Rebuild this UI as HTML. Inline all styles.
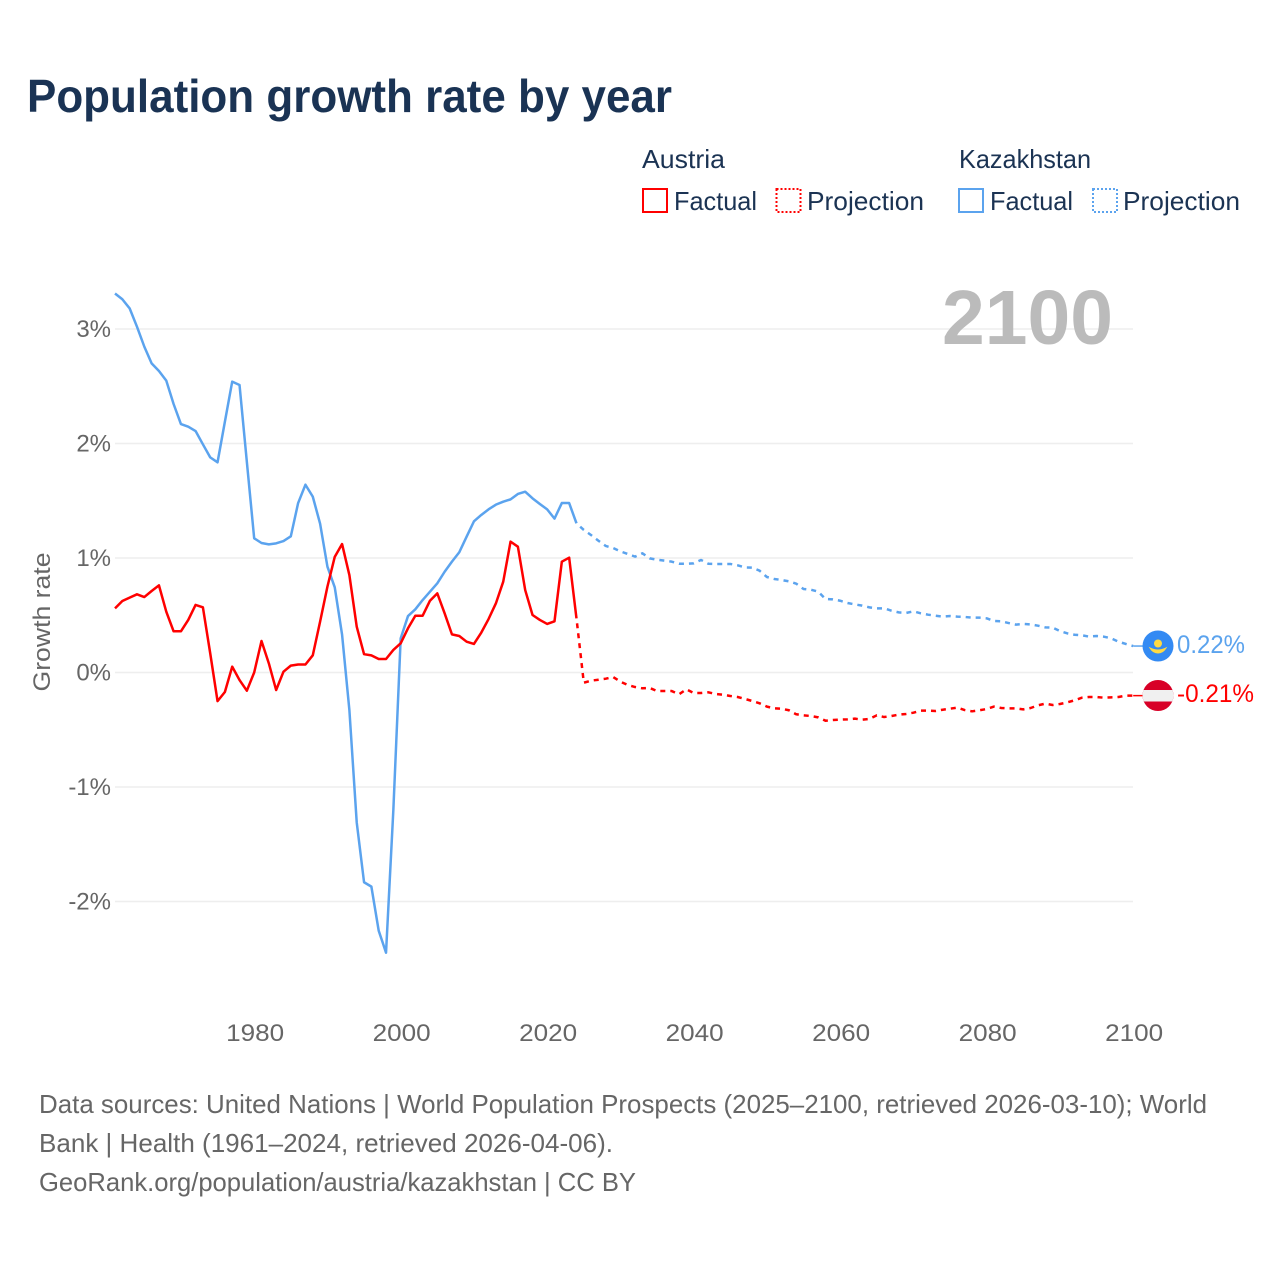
<!DOCTYPE html>
<html lang="en">
<head>
<meta charset="utf-8">
<title>Population growth rate by year</title>
<style>
html,body{margin:0;padding:0;background:#fff;}
svg{display:block;font-family:"Liberation Sans",sans-serif;}
</style>
</head>
<body>
<svg id="chart" xmlns="http://www.w3.org/2000/svg" width="1280" height="1280" viewBox="0 0 1280 1280">
  <rect x="0" y="0" width="1280" height="1280" fill="#fff"/>
  <text x="27" y="112" font-size="46" font-weight="700" fill="#1a3354" textLength="645" lengthAdjust="spacingAndGlyphs">Population growth rate by year</text>

  <g font-size="26" fill="#1b3353">
    <text x="642" y="168" textLength="83" lengthAdjust="spacingAndGlyphs">Austria</text>
    <text x="959" y="168" textLength="132" lengthAdjust="spacingAndGlyphs">Kazakhstan</text>
    <rect x="643" y="189" width="24" height="23" fill="none" stroke="#ff0000" stroke-width="2"/>
    <text x="674" y="210" textLength="83" lengthAdjust="spacingAndGlyphs">Factual</text>
    <rect x="776.5" y="189" width="24" height="23" fill="none" stroke="#ff0000" stroke-width="2" stroke-dasharray="2 2"/>
    <text x="807" y="210" textLength="117" lengthAdjust="spacingAndGlyphs">Projection</text>
    <rect x="959" y="189" width="24" height="23" fill="none" stroke="#5ba3ee" stroke-width="2"/>
    <text x="990" y="210" textLength="83" lengthAdjust="spacingAndGlyphs">Factual</text>
    <rect x="1093" y="189" width="24" height="23" fill="none" stroke="#5ba3ee" stroke-width="2" stroke-dasharray="2 2"/>
    <text x="1123" y="210" textLength="117" lengthAdjust="spacingAndGlyphs">Projection</text>
  </g>

  <g id="grid"></g>
  <g id="yticks"></g>
  <g id="xticks"></g>

  <text transform="translate(50,622) rotate(-90)" text-anchor="middle" font-size="24" fill="#666" textLength="139" lengthAdjust="spacingAndGlyphs">Growth rate</text>
  <text x="942" y="344" font-size="77" font-weight="700" fill="#bbbbbb" textLength="171" lengthAdjust="spacingAndGlyphs">2100</text>

  <g id="series"></g>

  <g>
    <circle cx="1158" cy="646" r="15.5" fill="#338af3"/>
    <circle cx="1158" cy="643.5" r="4" fill="#ffda44"/>
    <path d="M1150 648 Q1153 653 1158 653 Q1163 653 1166 648 Q1162 650 1158 650 Q1154 650 1150 648Z" fill="#ffda44" stroke="#ffda44" stroke-width="1"/>
    <text id="label-kz" x="1177" y="653" font-size="25" fill="#5ba3ee" textLength="68" lengthAdjust="spacingAndGlyphs">0.22%</text>
  </g>
  <g>
    <clipPath id="at-clip"><circle cx="1158" cy="695.5" r="15.5"/></clipPath>
    <g clip-path="url(#at-clip)">
      <rect x="1142" y="680" width="32" height="32" fill="#d80027"/>
      <rect x="1142" y="690" width="32" height="11.5" fill="#f0f0f0"/>
    </g>
    <text id="label-at" x="1177" y="702" font-size="25" fill="#ff0000" textLength="77" lengthAdjust="spacingAndGlyphs">-0.21%</text>
  </g>

  <g font-size="26" fill="#666">
    <text x="39" y="1113" textLength="1168" lengthAdjust="spacingAndGlyphs">Data sources: United Nations | World Population Prospects (2025–2100, retrieved 2026-03-10); World</text>
    <text x="39" y="1152" textLength="574" lengthAdjust="spacingAndGlyphs">Bank | Health (1961–2024, retrieved 2026-04-06).</text>
    <text x="39" y="1191" textLength="597" lengthAdjust="spacingAndGlyphs">GeoRank.org/population/austria/kazakhstan | CC BY</text>
  </g>
</svg>
<script>
const yTickValues = [3, 2, 1, 0, -1, -2];
const xTickValues = [1980, 2000, 2020, 2040, 2060, 2080, 2100];
const factualStartYear = 1961;
const projectionStartYear = 2025;

const austriaFactual = [
  0.56, 0.624, 0.654, 0.683, 0.659, 0.712, 0.761, 0.531, 0.36, 0.36,
  0.459, 0.59, 0.569, 0.167, -0.25, -0.17, 0.051, -0.066, -0.159, 0,
  0.275, 0.08, -0.153, 0.007, 0.06, 0.07, 0.07, 0.15, 0.444, 0.75,
  1.01, 1.122, 0.85, 0.40, 0.16, 0.15, 0.118, 0.118, 0.197, 0.255,
  0.386, 0.496, 0.496, 0.627, 0.691, 0.517, 0.333, 0.319, 0.269, 0.249,
  0.348, 0.467, 0.604, 0.793, 1.143, 1.099, 0.72, 0.502, 0.459, 0.424,
  0.447, 0.968, 1.003, 0.473
];
const kazakhstanFactual = [
  3.31, 3.26, 3.18, 3.02, 2.846, 2.70, 2.633, 2.549, 2.345, 2.17,
  2.147, 2.109, 1.993, 1.879, 1.836, 2.19, 2.54, 2.511, 1.84, 1.172,
  1.131, 1.119, 1.128, 1.148, 1.189, 1.48, 1.64, 1.536, 1.30, 0.924,
  0.744, 0.33, -0.33, -1.31, -1.832, -1.87, -2.255, -2.447, -1.2, 0.298,
  0.493, 0.552, 0.633, 0.706, 0.779, 0.88, 0.968, 1.05, 1.186, 1.32,
  1.376, 1.425, 1.466, 1.492, 1.512, 1.559, 1.579, 1.521, 1.472, 1.425,
  1.344, 1.48, 1.48, 1.303
];
const austriaProjection = [
  -0.089, -0.071, -0.063, -0.054, -0.039, -0.08, -0.109, -0.127, -0.138, -0.135,
  -0.162, -0.162, -0.162, -0.19, -0.147, -0.179, -0.179, -0.173, -0.188, -0.194,
  -0.205, -0.214, -0.231, -0.249, -0.269, -0.298, -0.313, -0.316, -0.33, -0.365,
  -0.374, -0.38, -0.392, -0.421, -0.415, -0.412, -0.409, -0.403,
  -0.412, -0.406, -0.374, -0.389, -0.38, -0.368, -0.362, -0.351, -0.333, -0.333,
  -0.336, -0.325, -0.316, -0.307, -0.328, -0.339, -0.33, -0.319, -0.298, -0.31,
  -0.313, -0.313, -0.322, -0.31, -0.287, -0.272, -0.284, -0.275, -0.261, -0.243,
  -0.22, -0.214, -0.214, -0.22, -0.217, -0.214, -0.202, -0.202
];
const kazakhstanProjection = [
  1.245, 1.20, 1.151, 1.105, 1.087, 1.058, 1.035, 1.012, 1.041, 0.997,
  0.985, 0.977, 0.968, 0.95, 0.95, 0.953, 0.983, 0.95, 0.948, 0.948,
  0.948, 0.936, 0.918, 0.916, 0.889, 0.834, 0.817, 0.808, 0.796, 0.776,
  0.729, 0.723, 0.706, 0.642, 0.639, 0.627, 0.607, 0.595,
  0.584, 0.569, 0.56, 0.56, 0.54, 0.525, 0.52, 0.534, 0.517, 0.505,
  0.496, 0.488, 0.493, 0.488, 0.485, 0.479, 0.479, 0.473, 0.45, 0.447,
  0.432, 0.418, 0.424, 0.42, 0.409, 0.394, 0.392, 0.362, 0.342, 0.33,
  0.325, 0.313, 0.319, 0.313, 0.298, 0.269, 0.249, 0.231
];

const NS = 'http://www.w3.org/2000/svg';
const AUSTRIA_COLOR = '#ff0000';
const KAZAKHSTAN_COLOR = '#5ba3ee';

function xScale(year) { return 115 + (year - 1961) * 7.325; }
function yScale(value) { return 672.5 - value * 114.5; }

function make(tag, attrs, parent) {
  const el = document.createElementNS(NS, tag);
  for (const k in attrs) el.setAttribute(k, attrs[k]);
  parent.appendChild(el);
  return el;
}

const gridGroup = document.getElementById('grid');
const yTickGroup = document.getElementById('yticks');
const xTickGroup = document.getElementById('xticks');
const seriesGroup = document.getElementById('series');

yTickValues.forEach(function (v) {
  const line = make('line', { x1: 115, x2: 1133, y1: yScale(v), y2: yScale(v), stroke: '#eeeeee', 'stroke-width': 1.5 }, gridGroup);
  
  
  const label = make('text', { x: 111, y: yScale(v) + 8, 'text-anchor': 'end', 'font-size': 24, fill: '#666' }, yTickGroup);
  
  
  label.textContent = v + '%';
});

xTickValues.forEach(function (year) {
  const label = make('text', { x: xScale(year) + 1, y: 1041, 'text-anchor': 'middle', 'font-size': 24, fill: '#666', textLength: 58, lengthAdjust: 'spacingAndGlyphs' }, xTickGroup);
  
  
  label.textContent = year;
});

function linePath(points) {
  return points.map(function (p, i) {
    return (i ? 'L' : 'M') + xScale(p[0]).toFixed(2) + ' ' + yScale(p[1]).toFixed(2);
  }).join(' ');
}

function factualPoints(values) {
  return values.map(function (v, i) { return [factualStartYear + i, v]; });
}

function projectionPoints(values, factual) {
  const first = [[factualStartYear + factual.length - 1, factual[factual.length - 1]]];
  return first.concat(values.map(function (v, i) { return [projectionStartYear + i, v]; }));
}

function drawFactual(values, color) {
  return make('path', { d: linePath(factualPoints(values)), fill: 'none', stroke: color, 'stroke-width': 2.5, 'stroke-linejoin': 'round' }, seriesGroup);
}

function drawProjection(values, factual, color) {
  return make('path', { d: linePath(projectionPoints(values, factual)), fill: 'none', stroke: color, 'stroke-width': 2.5, 'stroke-linejoin': 'round', 'stroke-dasharray': '5 5', 'stroke-dashoffset': 5 }, seriesGroup);
}

function drawConnector(values, color) {
  const last = values[values.length - 1];
  return make('line', { x1: xScale(2100), x2: 1145, y1: yScale(last), y2: yScale(last), stroke: color, 'stroke-width': 1.5 }, seriesGroup);
}

const kzFactualLine = drawFactual(kazakhstanFactual, KAZAKHSTAN_COLOR);



const kzProjectionLine = drawProjection(kazakhstanProjection, kazakhstanFactual, KAZAKHSTAN_COLOR);



const kzConnector = drawConnector(kazakhstanProjection, KAZAKHSTAN_COLOR);



const atFactualLine = drawFactual(austriaFactual, AUSTRIA_COLOR);



const atProjectionLine = drawProjection(austriaProjection, austriaFactual, AUSTRIA_COLOR);



const atConnector = drawConnector(austriaProjection, AUSTRIA_COLOR);


</script>
</body>
</html>
